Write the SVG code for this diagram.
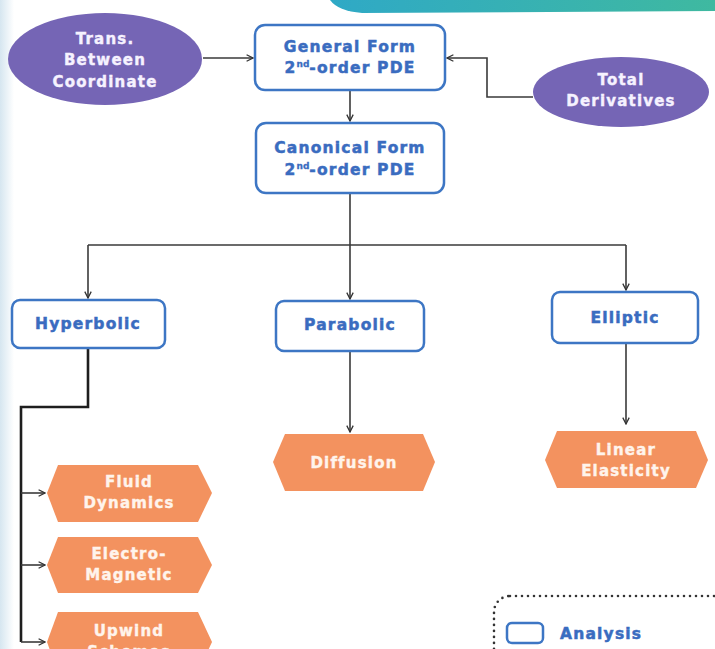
<svg xmlns="http://www.w3.org/2000/svg" width="715" height="649" viewBox="0 0 715 649">
<defs>
<marker id="arr" viewBox="0 0 10 10" refX="9" refY="5" markerWidth="8" markerHeight="8" markerUnits="userSpaceOnUse" orient="auto">
<path d="M1,1 L9,5 L1,9" fill="none" stroke="#333" stroke-width="1.6"/>
</marker>
<linearGradient id="teal" x1="0" y1="0" x2="1" y2="0">
<stop offset="0" stop-color="#2fa9c6"/>
<stop offset="1" stop-color="#3fb9a0"/>
</linearGradient>
<linearGradient id="strip" x1="0" y1="0" x2="1" y2="0">
<stop offset="0" stop-color="#d6e6f0"/>
<stop offset="1" stop-color="#ffffff"/>
</linearGradient>
</defs>
<style>
.box{fill:#ffffff;stroke:#3d76c4;stroke-width:2.5}
.bt{font-family:"DejaVu Sans","Liberation Sans",sans-serif;font-weight:bold;font-size:15.5px;fill:#3a6cc0;stroke:#3a6cc0;stroke-width:0.5px;text-anchor:middle;letter-spacing:1.2px}
.sup{font-size:9px;letter-spacing:0;stroke-width:0.3px}
.ell{fill:#7565b5}
.et{font-family:"DejaVu Sans","Liberation Sans",sans-serif;font-weight:bold;font-size:15px;fill:#f6f2ff;stroke:#f6f2ff;stroke-width:0.4px;text-anchor:middle;letter-spacing:1.2px}
.hex{fill:#f3925f}
.ht{font-family:"DejaVu Sans","Liberation Sans",sans-serif;font-weight:bold;font-size:15px;fill:#fff4ec;stroke:#fff4ec;stroke-width:0.4px;text-anchor:middle;letter-spacing:1.2px}
.ln{fill:none;stroke:#3a3a3a;stroke-width:1.6}
.lnk{fill:none;stroke:#1e1e1e;stroke-width:2.6}
</style>
<rect x="0" y="0" width="715" height="649" fill="#ffffff"/>
<rect x="0" y="0" width="14" height="649" fill="url(#strip)"/>
<path d="M330,0 L715,0 L715,11 L362,13 Q338,11 330,0 Z" fill="url(#teal)"/>

<g id="connectors">
<path class="ln" d="M203,58 L253,58" marker-end="url(#arr)"/>
<path class="ln" d="M533,97 L487,97 L487,58 L447,58" marker-end="url(#arr)"/>
<path class="ln" d="M350,90 L350,121" marker-end="url(#arr)"/>
<path class="ln" d="M350,193 L350,245"/>
<path class="ln" d="M88,245 L626,245"/>
<path class="ln" d="M88,245 L88,298" marker-end="url(#arr)"/>
<path class="ln" d="M350,245 L350,299" marker-end="url(#arr)"/>
<path class="ln" d="M626,245 L626,290" marker-end="url(#arr)"/>
<path class="lnk" d="M88,348 L88,407 L21,407 L21,642"/>
<path class="ln" d="M21,493 L45,493" marker-end="url(#arr)"/>
<path class="ln" d="M21,565 L45,565" marker-end="url(#arr)"/>
<path class="ln" d="M21,642 L45,642" marker-end="url(#arr)"/>
<path class="ln" d="M350,351 L350,432" marker-end="url(#arr)"/>
<path class="ln" d="M626,343 L626,424" marker-end="url(#arr)"/>
</g>

<g id="trans">
<ellipse class="ell" cx="105" cy="59" rx="97" ry="46"/>
<text class="et" x="105" y="44">Trans.</text>
<text class="et" x="105" y="65">Between</text>
<text class="et" x="105" y="87">Coordinate</text>
</g>

<g id="general">
<rect class="box" x="255" y="25" width="190" height="65" rx="10"/>
<text class="bt" x="350" y="52">General Form</text>
<text class="bt" x="350" y="73">2<tspan class="sup" dy="-6">nd</tspan><tspan dy="6">-order PDE</tspan></text>
</g>

<g id="total">
<ellipse class="ell" cx="621" cy="92" rx="88" ry="35"/>
<text class="et" x="621" y="85">Total</text>
<text class="et" x="621" y="106">Derivatives</text>
</g>

<g id="canonical">
<rect class="box" x="256" y="123" width="188" height="70" rx="10"/>
<text class="bt" x="350" y="153">Canonical Form</text>
<text class="bt" x="350" y="175">2<tspan class="sup" dy="-6">nd</tspan><tspan dy="6">-order PDE</tspan></text>
</g>

<g id="hyperbolic">
<rect class="box" x="12" y="300" width="153" height="48" rx="8"/>
<text class="bt" x="88" y="329">Hyperbolic</text>
</g>

<g id="parabolic">
<rect class="box" x="276" y="301" width="148" height="50" rx="8"/>
<text class="bt" x="350" y="330">Parabolic</text>
</g>

<g id="elliptic">
<rect class="box" x="552" y="292" width="146" height="51" rx="8"/>
<text class="bt" x="625" y="323">Elliptic</text>
</g>

<g id="fluid">
<polygon class="hex" points="47,493 58,465 198,465 212,493 198,522 58,522"/>
<text class="ht" x="129" y="487">Fluid</text>
<text class="ht" x="129" y="508">Dynamics</text>
</g>

<g id="electro">
<polygon class="hex" points="47,565 58,537 198,537 212,565 198,593 58,593"/>
<text class="ht" x="129" y="559">Electro-</text>
<text class="ht" x="129" y="580">Magnetic</text>
</g>

<g id="upwind">
<polygon class="hex" points="47,642 58,612 198,612 212,642 198,672 58,672"/>
<text class="ht" x="129" y="636">Upwind</text>
<text class="ht" x="129" y="657">Schemes</text>
</g>

<g id="diffusion">
<polygon class="hex" points="273,462 285,434 423,434 435,462 423,491 285,491"/>
<text class="ht" x="354" y="468">Diffusion</text>
</g>

<g id="elasticity">
<polygon class="hex" points="545,460 557,431 696,431 708,460 696,488 557,488"/>
<text class="ht" x="626" y="455">Linear</text>
<text class="ht" x="626" y="476">Elasticity</text>
</g>

<g id="legend">
<rect x="494" y="596" width="260" height="100" rx="16" fill="none" stroke="#333" stroke-width="2.6" stroke-dasharray="0 6" stroke-linecap="round"/>
<rect x="507" y="623" width="36" height="20" rx="5" fill="#ffffff" stroke="#3d76c4" stroke-width="2.5"/>
<text class="bt" x="560" y="639" style="text-anchor:start">Analysis</text>
</g>
</svg>
